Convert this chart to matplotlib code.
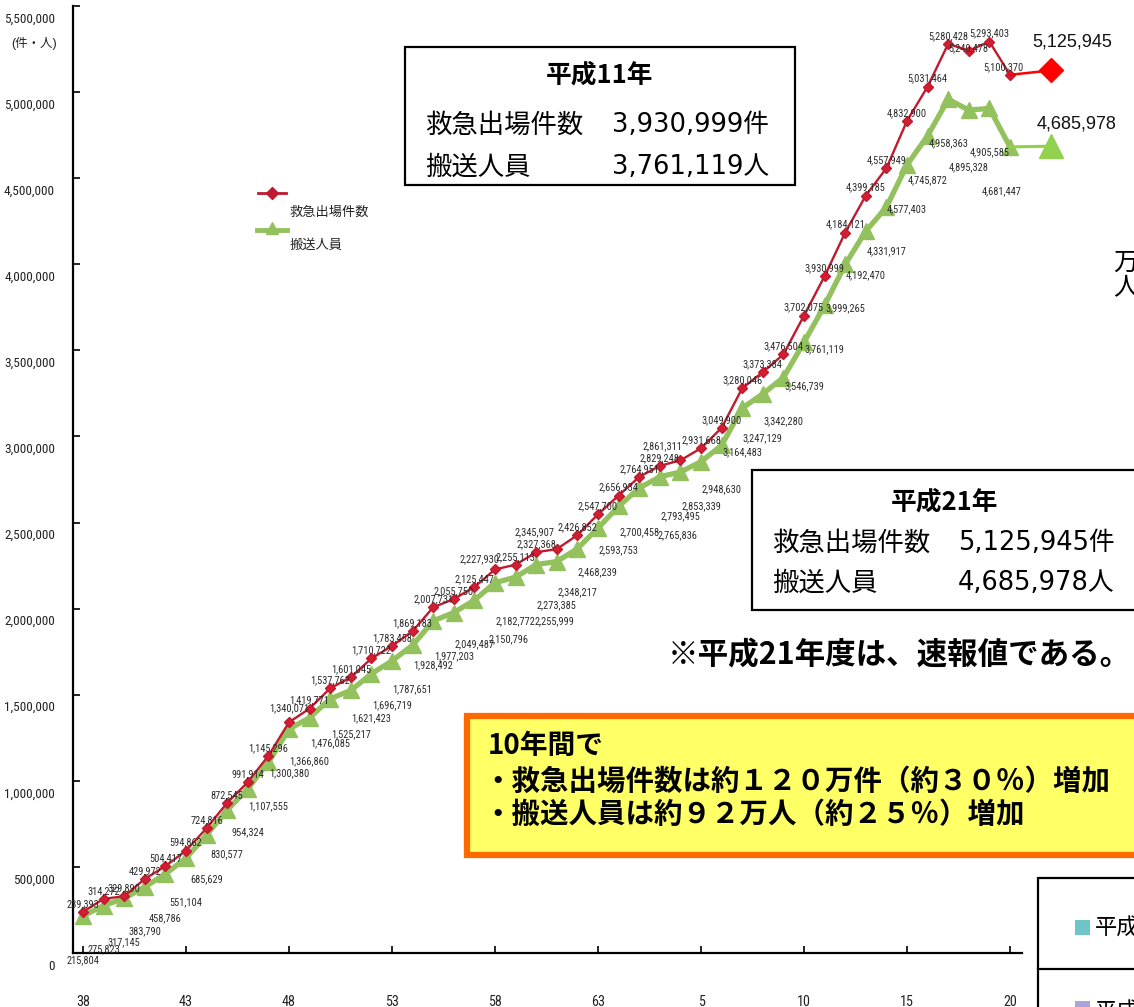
import matplotlib
matplotlib.use('Agg')
import matplotlib.pyplot as plt
from matplotlib import font_manager
from matplotlib.patches import Rectangle
from matplotlib.lines import Line2D

# 年（昭和38年〜平成21年）
showa = list(range(38, 64))
heisei = list(range(1, 22))
year_labels = [str(y) for y in showa] + [str(y) for y in heisei]
tick_labels = ['38', '43', '48', '53', '58', '63', '5', '10', '15', '20']

# 救急出場件数
calls = [239393, 314272, 329890, 429972, 504417, 594862, 724816, 872545, 991914, 1145296,
         1340071, 1419771, 1537762, 1601045, 1710722, 1783458, 1869183, 2007731, 2055750, 2125447,
         2227930, 2255113, 2327368, 2345907, 2426852, 2547700,
         2656934, 2764951, 2829248, 2861311, 2931668, 3049900, 3280046, 3373384, 3476504, 3702075,
         3930999, 4184121, 4399185, 4557949, 4832900, 5031464, 5280428, 5240478, 5293403, 5100370,
         5125945]
# 搬送人員
carried = [215804, 275823, 317145, 383790, 458786, 551104, 685629, 830577, 954324, 1107555,
           1300380, 1366860, 1476085, 1525217, 1621423, 1696719, 1787651, 1928492, 1977203, 2049487,
           2150796, 2182772, 2255999, 2273385, 2348217, 2468239,
           2593753, 2700458, 2765836, 2793495, 2853339, 2948630, 3164483, 3247129, 3342280, 3546739,
           3761119, 3999265, 4192470, 4331917, 4577403, 4745872, 4958363, 4895328, 4905585, 4681447,
           4685978]
y_ticks = list(range(0, 5500001, 500000))

W, H = 1134, 1007
RED = '#c01a2e'
GREEN = '#93c15d'

# pick a condensed latin font if one is installed
installed = {f.name for f in font_manager.fontManager.ttflist}
narrow_name = next((n for n in ['Liberation Sans Narrow', 'Roboto Condensed', 'Arial Narrow']
                    if n in installed), None)
if narrow_name:
    NARROW, small_fs, tick_fs = [narrow_name, 'DejaVu Sans'], 7.5, 9.5
else:
    NARROW, small_fs, tick_fs = ['Liberation Sans', 'DejaVu Sans'], 6.2, 7.8
CJK = ['Noto Sans CJK JP', 'DejaVu Sans']
NUM = ['DejaVu Sans', 'Noto Sans CJK JP']


def fx(px):
    return px / W


def fy(py):
    return 1 - py / H


fig = plt.figure(figsize=(W / 100, H / 100), dpi=100)
fig.patch.set_facecolor('white')

# axes: index 0 (S38) at x=83px, 20.6px per year; 0 at y=953px, 5.5M at y=6px
step = 20.6
ax = fig.add_axes([fx(73), fy(953), 1 - fx(73), fy(6) - fy(953)])
ax.patch.set_alpha(0)
ax.set_xlim((73 - 83) / step, (W - 83) / step)
ax.set_ylim(0, 5500000)
for s in ['top', 'right']:
    ax.spines[s].set_visible(False)
ax.spines['bottom'].set_bounds((73 - 83) / step, (1022 - 83) / step)
ax.spines['left'].set_linewidth(1.6)
ax.spines['bottom'].set_linewidth(1.6)

x = list(range(len(year_labels)))
ax.set_xticks(x[0::5])
ax.set_xticklabels(tick_labels, family=NARROW, fontsize=tick_fs + 0.7, color='#222222')
ax.tick_params(axis='x', direction='in', length=5, pad=30, width=1.2)
ax.set_yticks(y_ticks)
ax.set_yticklabels([])
ax.tick_params(axis='y', direction='in', length=5, width=1.2)

# y tick labels (drawn slightly below their ticks as in the scan)
for v in y_ticks:
    ax.annotate(f'{v:,}', xy=(0, v), xycoords=('axes fraction', 'data'),
                xytext=(-18, -13), textcoords='offset pixels', ha='right', va='center',
                family=NARROW, fontsize=tick_fs, color='#222222',
                annotation_clip=False)
fig.text(fx(11), fy(43), '(件・人)', ha='left', va='center', fontsize=9,
         family=['Liberation Sans', 'Noto Sans CJK JP'], color='#222222')

# main series (S38 - H20)
n = len(x) - 1
ax.plot(x[:n], carried[:n], color=GREEN, lw=3.8, marker='^', ms=11,
        mfc=GREEN, mec=GREEN, zorder=3, solid_joinstyle='miter')
ax.plot(x[:n], calls[:n], color=RED, lw=1.7, marker='D', ms=5.5,
        mfc='#d21e32', mec=RED, zorder=4)

# H21 (速報値) drawn after a gap
x_last = x[-1] + 1
ax.plot([x[n - 1], x_last], [carried[n - 1], carried[-1]], color='#92d050', lw=2.2, zorder=3)
ax.plot([x_last], [carried[-1]], marker='^', ms=17, color='#92d050', zorder=3)
ax.plot([x[n - 1], x_last], [calls[n - 1], calls[-1]], color='#ff0000', lw=1.8, zorder=4)
ax.plot([x_last], [calls[-1]], marker='D', ms=12, color='#ff0000', zorder=4)
ax.annotate(f'{calls[-1]:,}', xy=(x_last, calls[-1]), xytext=(-19, 28),
            textcoords='offset pixels', ha='left', va='center',
            family='Liberation Sans', fontsize=13, color='#111111')
ax.annotate(f'{carried[-1]:,}', xy=(x_last, carried[-1]), xytext=(-15, 22),
            textcoords='offset pixels', ha='left', va='center',
            family='Liberation Sans', fontsize=13, color='#111111')

# data labels
red_off = {10: (0, 14), 20: (-15, 10), 23: (-22, 17), 29: (-18, 14), 43: (0, 2), 45: (-7, 8)}
green_off = {20: (14, -57), 22: (18, -57), 28: (18, -58), 43: (0, -57), 45: (-8, -44)}
for i in range(n):
    ax.annotate(f'{calls[i]:,}', xy=(x[i], calls[i]), xytext=red_off.get(i, (0, 8)),
                textcoords='offset pixels', ha='center', va='center',
                family=NARROW, fontsize=small_fs, color='#2b2b2b', zorder=5)
    ax.annotate(f'{carried[i]:,}', xy=(x[i], carried[i]), xytext=green_off.get(i, (0, -44)),
                textcoords='offset pixels', ha='center', va='center',
                family=NARROW, fontsize=small_fs, color='#2b2b2b', zorder=5)

# legend (hand drawn)
fig.add_artist(Line2D([fx(258), fx(286)], [fy(193), fy(193)], transform=fig.transFigure,
                      color=RED, lw=2))
fig.add_artist(Line2D([fx(272)], [fy(193)], transform=fig.transFigure,
                      color=RED, marker='D', ms=6))
fig.add_artist(Line2D([fx(257), fx(287)], [fy(230), fy(230)], transform=fig.transFigure,
                      color=GREEN, lw=3.5))
fig.add_artist(Line2D([fx(272)], [fy(228)], transform=fig.transFigure,
                      color=GREEN, marker='^', ms=8))
fig.text(fx(290), fy(212), '救急出場件数', ha='left', va='center', fontsize=9.5,
         family=CJK, color='#222222')
fig.text(fx(290), fy(245), '搬送人員', ha='left', va='center', fontsize=9.5,
         family=CJK, color='#222222')


def box(x0, y0, x1, y1, fc='white', ec='black', lw=1.6):
    fig.add_artist(Rectangle((fx(x0), fy(y1)), fx(x1) - fx(x0), fy(y0) - fy(y1),
                             transform=fig.transFigure, fc=fc, ec=ec, lw=lw))


# 平成11年 box
box(405, 47, 795, 185)
fig.text(fx(600), fy(75), '平成11年', ha='center', va='center', fontsize=18.5,
         fontweight='bold', family=CJK)
fig.text(fx(425), fy(125), '救急出場件数', ha='left', va='center', fontsize=19, family=CJK)
fig.text(fx(612), fy(125), '3,930,999件', ha='left', va='center', fontsize=18.5, family=NUM)
fig.text(fx(425), fy(167), '搬送人員', ha='left', va='center', fontsize=19, family=CJK)
fig.text(fx(612), fy(167), '3,761,119人', ha='left', va='center', fontsize=18.5, family=NUM)

# 平成21年 box
box(752, 470, 1150, 610)
fig.text(fx(945), fy(502), '平成21年', ha='center', va='center', fontsize=18.5,
         fontweight='bold', family=CJK)
fig.text(fx(772), fy(543), '救急出場件数', ha='left', va='center', fontsize=19, family=CJK)
fig.text(fx(958), fy(543), '5,125,945件', ha='left', va='center', fontsize=18.5, family=NUM)
fig.text(fx(772), fy(583), '搬送人員', ha='left', va='center', fontsize=19, family=CJK)
fig.text(fx(958), fy(583), '4,685,978人', ha='left', va='center', fontsize=18.5, family=NUM)

fig.text(fx(668), fy(655), '※平成21年度は、速報値である。', ha='left', va='center',
         fontsize=22, fontweight='bold', family=CJK)

# yellow note
box(467, 716, 1160, 855, fc='#ffff66', ec='#ff6a00', lw=4.5)
fig.text(fx(488), fy(746), '10年間で', ha='left', va='center', fontsize=20,
         fontweight='bold', family=CJK)
fig.text(fx(483), fy(782), '・救急出場件数は約１２０万件（約３０％）増加', ha='left', va='center',
         fontsize=20.5, fontweight='bold', family=CJK)
fig.text(fx(483), fy(815), '・搬送人員は約９２万人（約２５％）増加', ha='left', va='center',
         fontsize=20.5, fontweight='bold', family=CJK)

# right edge fragments
fig.text(fx(1113), fy(263), '万', ha='left', va='center', fontsize=18, family=CJK)
fig.text(fx(1113), fy(288), '人', ha='left', va='center', fontsize=18, family=CJK)

# bottom-right table fragment
box(1038, 878, 1160, 1020)
fig.add_artist(Line2D([fx(1038), fx(1160)], [fy(969), fy(969)], transform=fig.transFigure,
                      color='black', lw=1.6))
box(1075, 920, 1090, 935, fc='#6fc4c8', ec='none', lw=0)
fig.text(fx(1095), fy(928), '平成', ha='left', va='center', fontsize=16, family=CJK)
box(1075, 1001, 1090, 1012, fc='#aaa5d8', ec='none', lw=0)
fig.text(fx(1095), fy(1012), '平成', ha='left', va='center', fontsize=16, family=CJK)

fig.savefig('out.png', dpi=100)
